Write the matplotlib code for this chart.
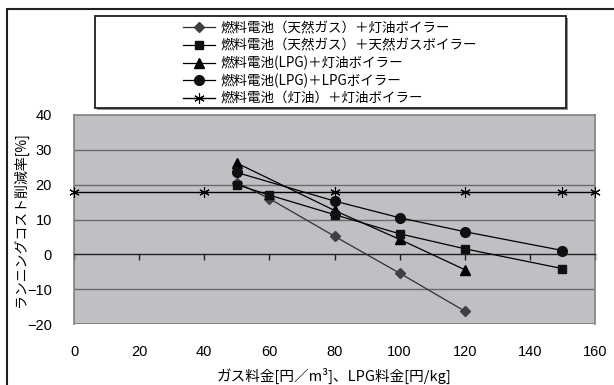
import matplotlib
matplotlib.use("Agg")
import matplotlib.pyplot as plt
from matplotlib.patches import Rectangle
from matplotlib.lines import Line2D

plt.rcParams['font.family'] = ['Noto Sans CJK JP', 'DejaVu Sans']

# ---- data ----
labels = ["燃料電池（天然ガス）＋灯油ボイラー",
          "燃料電池（天然ガス）＋天然ガスボイラー",
          "燃料電池(LPG)＋灯油ボイラー",
          "燃料電池(LPG)＋LPGボイラー",
          "燃料電池（灯油）＋灯油ボイラー"]
x_diamond = [50, 60, 80, 100, 120]
y_diamond = [20.6, 16.0, 5.2, -5.4, -16.3]
x_square = [50, 60, 80, 100, 120, 150]
y_square = [20.0, 17.0, 11.4, 5.9, 1.6, -4.1]
x_triangle = [50, 80, 100, 120]
y_triangle = [26.2, 12.6, 4.3, -4.4]
x_circle = [50, 80, 100, 120, 150]
y_circle = [23.5, 15.3, 10.5, 6.5, 1.1]
x_star = [0, 40, 80, 120, 150, 160]
y_star = [18, 18, 18, 18, 18, 18]
xticks = [0, 20, 40, 60, 80, 100, 120, 140, 160]
yticks = [-20, -10, 0, 10, 20, 30, 40]

W, H = 614, 385
fig = plt.figure(figsize=(W / 100, H / 100), dpi=100)
fig.patch.set_facecolor('white')

num_font = ['Liberation Sans', 'DejaVu Sans']

# axes in pixel coordinates
L, R, T, B = 74, 595, 115, 324
ax = fig.add_axes([L / W, 1 - B / H, (R - L) / W, (B - T) / H])
ax.set_facecolor('#c0c0c4')
ax.set_xlim(0, 160)
ax.set_ylim(-20, 40)

for s in ['top', 'right', 'left']:
    ax.spines[s].set_color('#808080')
    ax.spines[s].set_linewidth(1.2)
ax.spines['bottom'].set_position(('data', 0))
ax.spines['bottom'].set_color('#202020')
ax.spines['bottom'].set_linewidth(1.0)

# frame bottom edge
ax.axhline(-20, color='#808080', lw=1.4, zorder=1)
for yv in yticks[1:-1]:
    if yv != 0:
        ax.axhline(yv, color='#6a6a6a', lw=1.0, zorder=1)

ax.set_xticks(xticks)
ax.tick_params(axis='x', direction='out', length=4, width=1, color='#202020',
               labelbottom=False)
ax.set_yticks(yticks)
ax.set_yticklabels([str(v).replace('-', '−') for v in yticks], family=num_font)
ax.tick_params(axis='y', length=0, pad=16, labelsize=10.5)

sec = ax.secondary_xaxis('bottom')
sec.set_xticks(xticks)
sec.set_xticklabels([str(v) for v in xticks], family=num_font)
sec.tick_params(length=0, pad=15, labelsize=10.5)
sec.spines['bottom'].set_visible(False)

lw = 0.9
ms_d, ms_s, ms_t, ms_c, ms_x = 5.5, 5.5, 6.5, 7, 7.5
ax.plot(x_star, y_star, color='black', lw=1.0, marker=(6, 2, 0), ms=ms_x,
        mew=0.8, mec='black', zorder=3, clip_on=False)
ax.plot(x_diamond, y_diamond, color='#303030', lw=lw, marker='D', ms=ms_d,
        mfc='#404040', mec='#404040', zorder=4, clip_on=False)
ax.plot(x_triangle, y_triangle, color='black', lw=lw, marker='^', ms=ms_t,
        mfc='black', mec='black', zorder=4, clip_on=False)
ax.plot(x_square, y_square, color='black', lw=lw, marker='s', ms=ms_s,
        mfc='#101010', mec='#101010', zorder=5, clip_on=False)
ax.plot(x_circle, y_circle, color='black', lw=lw, marker='o', ms=ms_c,
        mfc='#101010', mec='#101010', zorder=5, clip_on=False)

ax.set_xlabel('ガス料金[円／m³]、LPG料金[円/kg]', fontsize=10.5)
ax.set_ylabel('ランニングコスト削減率[%]', fontsize=10)
ax.xaxis.set_label_coords(0.5, -0.21)
ax.yaxis.set_label_coords(-0.088, 0.5)

# outer frame
fig.add_artist(Rectangle((7 / W, -0.1), 1.2, 1 - 9 / H + 0.1,
                         transform=fig.transFigure, fill=False,
                         lw=1.5, ec='#202020'))

# legend box with shadow
lx0, ly0, lx1, ly1 = 95, 16, 566, 108
fig.add_artist(Rectangle(((lx0 + 2) / W, 1 - (ly1 + 2) / H), (lx1 - lx0) / W,
                         (ly1 - ly0) / H, transform=fig.transFigure,
                         fc='#909090', ec='none', zorder=9))
fig.add_artist(Rectangle((lx0 / W, 1 - ly1 / H), (lx1 - lx0) / W,
                         (ly1 - ly0) / H, transform=fig.transFigure,
                         fc='white', ec='#202020', lw=1.3, zorder=10))

handles = [
    Line2D([], [], color='#303030', lw=lw, marker='D', ms=ms_d, mfc='#404040', mec='#404040'),
    Line2D([], [], color='black', lw=lw, marker='s', ms=ms_s, mfc='#101010', mec='#101010'),
    Line2D([], [], color='black', lw=lw, marker='^', ms=ms_t, mfc='black', mec='black'),
    Line2D([], [], color='black', lw=lw, marker='o', ms=ms_c, mfc='#101010', mec='#101010'),
    Line2D([], [], color='black', lw=1.0, marker=(6, 2, 0), ms=ms_x, mew=0.8, mec='black'),
]
leg = fig.legend(handles, labels, loc='upper left',
                 bbox_to_anchor=(183 / W, 1 - 21 / H), bbox_transform=fig.transFigure,
                 frameon=False, fontsize=9.7, borderpad=0, borderaxespad=0,
                 handlelength=2.4, handletextpad=0.4, labelspacing=0.25)
leg.set_zorder(11)

fig.savefig('out.png', dpi=100)
